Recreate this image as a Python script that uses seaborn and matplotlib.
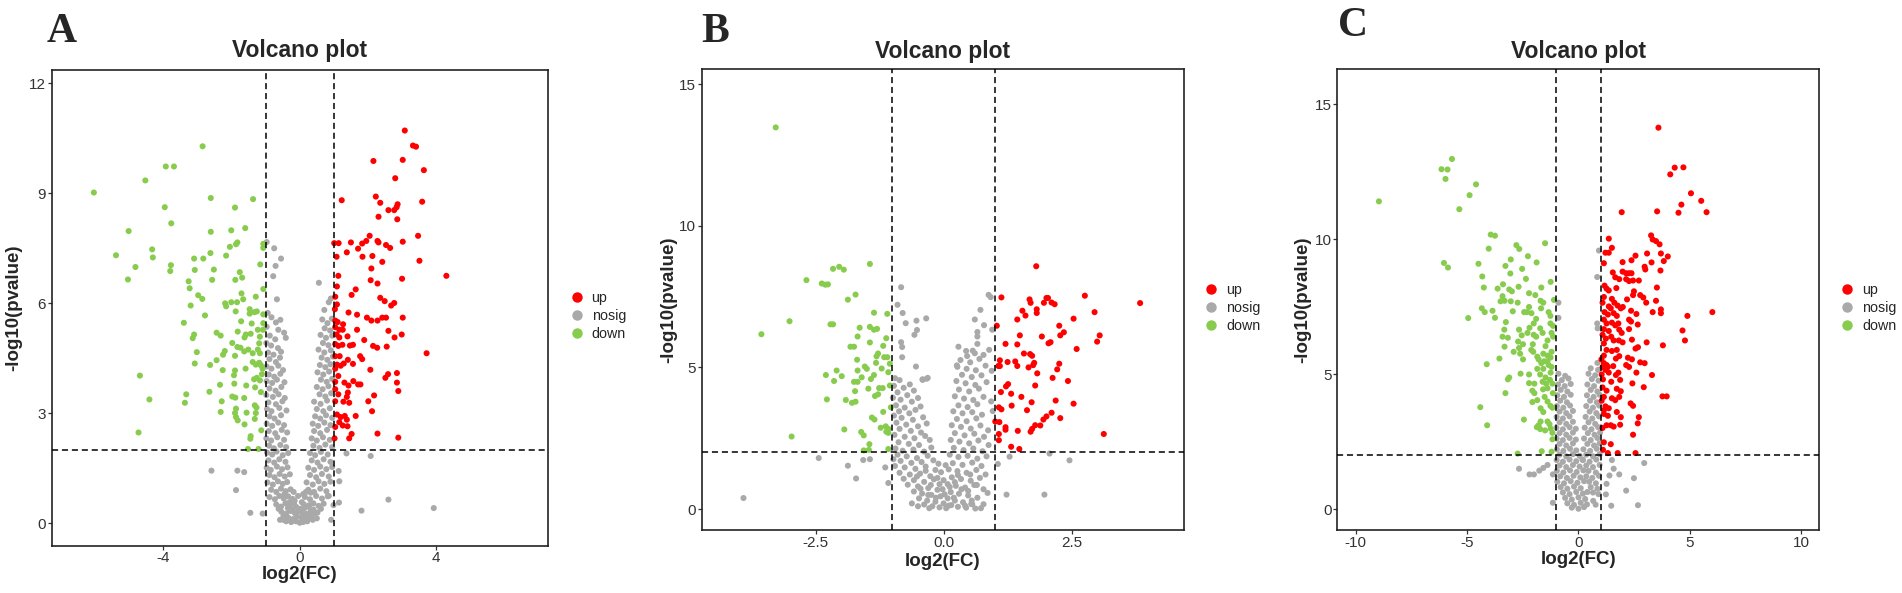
import numpy as np
import pandas as pd
import matplotlib
matplotlib.use('Agg')
import matplotlib.pyplot as plt
import seaborn as sns

# ---------------- panel A ----------------
A_up = [(3.08,10.71),(3.32,10.30),(3.41,10.27),(2.16,9.88),(3.02,9.91),(3.64,9.63),(2.80,9.41),(2.23,8.91),
        (2.36,8.74),(1.23,8.81),(3.59,8.77),(2.87,8.70),(2.84,8.62),(2.60,8.54),(2.77,8.54),(2.31,8.36),(2.86,8.29),
        (2.05,7.84),(3.47,7.84),(1.01,7.64),(1.14,7.64),(1.50,7.66),(1.95,7.70),(1.83,7.63),(2.28,7.70),(2.31,7.66),
        (2.53,7.59),(2.65,7.51),(3.02,7.68),(1.71,7.49),(1.38,7.39),(1.08,7.27),(1.84,7.27),(2.13,7.29),(2.42,7.13),
        (3.51,7.16),(4.30,6.75),(2.10,6.95),(1.13,6.75),(2.08,6.63),(3.00,6.67),(2.28,6.54),(1.64,6.38),(1.09,6.46),
        (1.52,6.23),(1.04,6.18),(2.36,6.15),(2.49,6.06),(2.77,6.01),(2.68,5.94),(1.09,5.97),(1.03,5.84),(1.43,5.75),
        (1.68,5.69),(1.97,5.61),(2.10,5.53),(2.28,5.53),(2.42,5.61),(2.53,5.61),(3.02,5.61),(1.04,5.53),(1.11,5.49),
        (1.27,5.43),(1.04,5.35),(1.16,5.28),(1.26,5.28),(1.68,5.28),(2.60,5.25),(1.08,5.15),(1.16,5.07),(1.40,5.10),
        (2.99,5.15),(1.89,5.00),(2.78,5.07),(1.04,4.89),(1.13,4.84),(1.25,4.87),(1.47,4.85),(1.56,4.87),(2.15,4.84),
        (2.27,4.79),(2.55,4.82),(3.72,4.64),(1.04,4.56),(1.17,4.56),(1.77,4.56),(1.83,4.48),(1.41,4.46),(1.09,4.33),
        (1.20,4.30),(1.29,4.36),(1.56,4.35),(1.04,4.22),(2.07,4.19),(2.59,4.07),(2.51,3.97),(2.85,4.10),(1.13,4.02),
        (1.04,3.86),(1.57,3.88),(1.71,3.79),(1.78,3.79),(1.31,3.84),(1.43,3.76),(2.85,3.84),(2.89,3.61),(1.04,3.66),
        (1.13,3.52),(1.41,3.57),(1.38,3.45),(2.18,3.49),(2.01,3.33),(1.04,3.33),(1.28,3.32),(1.45,3.29),(2.12,3.06),
        (1.09,2.97),(1.20,2.90),(1.32,2.93),(1.38,2.83),(1.64,2.93),(1.16,2.76),(1.26,2.67),(1.40,2.65),(1.04,2.63),
        (2.28,2.45),(1.52,2.44),(1.45,2.32),(2.89,2.34),(1.02,2.32)]
A_down = [(-6.04,9.02),(-2.85,10.28),(-3.93,9.73),(-3.69,9.73),(-4.53,9.35),(-2.61,8.87),(-1.37,8.84),(-3.96,8.62),
          (-1.90,8.61),(-3.77,8.18),(-1.60,8.05),(-5.02,7.97),(-2.61,7.95),(-2.01,7.99),(-1.83,7.66),(-1.87,7.61),
          (-2.05,7.54),(-1.07,7.62),(-1.07,7.51),(-4.33,7.47),(-4.31,7.25),(-5.39,7.31),(-3.10,7.22),(-2.83,7.22),
          (-2.62,7.37),(-2.16,7.30),(-4.82,6.99),(-3.78,7.04),(-3.80,6.88),(-1.16,7.06),(-2.52,6.92),(-3.08,6.91),
          (-5.04,6.65),(-3.26,6.60),(-2.57,6.64),(-1.89,6.64),(-1.76,6.85),(-1.69,6.70),(-3.23,6.41),(-2.98,6.22),
          (-2.86,6.12),(-1.07,6.39),(-1.29,6.18),(-2.19,6.00),(-2.16,5.92),(-2.01,6.03),(-1.84,6.03),(-1.71,6.27),
          (-1.66,6.11),(-1.88,5.78),(-1.47,5.84),(-1.33,5.76),(-1.26,5.78),(-1.47,5.72),(-1.07,5.70),(-1.07,5.46),
          (-3.20,5.94),(-2.78,5.67),(-3.40,5.47),(-1.72,5.51),(-1.41,5.45),(-1.23,5.28),(-1.08,5.28),(-3.10,5.15),
          (-3.14,5.05),(-2.44,5.20),(-2.32,5.12),(-1.82,5.23),(-1.58,5.15),(-1.44,5.17),(-1.62,5.07),(-1.17,5.09),
          (-1.19,4.91),(-1.98,4.92),(-3.02,4.67),(-2.20,4.70),(-2.25,4.60),(-2.44,4.45),(-1.83,4.81),(-1.74,4.79),
          (-1.63,4.69),(-1.51,4.74),(-1.38,4.64),(-1.23,4.74),(-1.17,4.64),(-1.90,4.57),(-3.08,4.36),(-2.63,4.32),
          (-1.38,4.40),(-1.29,4.33),(-1.19,4.38),(-1.14,4.31),(-2.26,4.18),(-1.90,4.17),(-1.93,4.04),(-1.59,4.22),
          (-1.09,4.22),(-1.11,4.07),(-4.69,4.03),(-1.34,3.93),(-1.26,3.97),(-1.17,3.90),(-1.92,3.81),(-2.34,3.78),
          (-1.57,3.76),(-1.31,3.71),(-1.14,3.58),(-2.65,3.59),(-3.33,3.52),(-1.98,3.46),(-1.89,3.43),(-1.63,3.42),
          (-4.41,3.38),(-3.37,3.29),(-2.29,3.33),(-1.32,3.22),(-1.27,3.16),(-1.87,3.13),(-2.32,3.04),(-1.90,3.01),
          (-1.87,2.90),(-1.56,3.02),(-1.29,3.01),(-1.32,2.85),(-1.82,2.81),(-1.62,2.70),(-1.13,2.54),(-4.73,2.48),
          (-1.44,2.38),(-1.45,2.31),(-1.52,2.03),(-1.21,2.03)]
A_nosig_spread = [(-2.59,1.44),(-1.83,1.44),(-1.63,1.40),(-1.87,0.91),(-1.45,0.29),(1.37,1.91),(2.08,1.84),
                  (2.60,0.65),(1.81,0.35),(3.93,0.42),(0.56,6.56),(-0.97,7.67),(-0.75,7.50),(-0.55,7.22),
                  (-0.71,7.02),(-0.78,6.74),(-0.67,6.11),(0.91,6.13),(0.85,6.03),(1.14,1.43),(1.16,1.15),
                  (1.15,0.57),(0.85,0.75),(0.99,0.50),(0.92,0.10),(-1.09,0.27),(-0.48,0.10)]
A_nosig_core = [
    (-0.94,5.74),(-0.83,5.62),(-0.70,5.48),(-0.57,5.55),(-0.97,5.36),(-0.63,5.28),(-0.46,5.20),(-0.88,5.12),
    (-0.72,5.02),(-0.41,5.06),(-0.98,4.92),(-0.84,4.85),(-0.64,4.78),(-0.93,4.66),(-0.77,4.60),(-0.55,4.68),
    (-0.89,4.48),(-0.70,4.40),(-0.58,4.52),(-0.97,4.28),(-0.83,4.22),(-0.63,4.30),(-0.49,4.18),(-0.91,4.06),
    (-0.75,4.00),(-0.57,4.08),(-0.97,3.88),(-0.81,3.83),(-0.67,3.92),(-0.45,3.85),(-0.89,3.68),(-0.71,3.62),
    (-0.54,3.72),(-0.98,3.50),(-0.79,3.45),(-0.62,3.52),(-0.44,3.42),(-0.92,3.30),(-0.70,3.25),(-0.51,3.33),
    (-0.96,3.12),(-0.83,3.06),(-0.60,3.15),(-0.39,3.08),(-0.89,2.92),(-0.74,2.86),(-0.55,2.95),(-0.97,2.72),
    (-0.81,2.66),(-0.63,2.75),(-0.46,2.68),(-0.91,2.52),(-0.72,2.46),(-0.53,2.55),(-0.37,2.48),(-0.98,2.32),
    (-0.84,2.26),(-0.66,2.35),(-0.46,2.28),(-0.90,2.12),(-0.76,2.05),(-0.57,2.14),(-0.40,2.08),
    (-0.96,1.93),(-0.81,1.88),(-0.68,1.96),(-0.50,1.86),(-0.34,1.92),(-0.92,1.72),(-0.75,1.66),(-0.60,1.75),
    (-0.42,1.68),(-0.97,1.52),(-0.85,1.46),(-0.67,1.55),(-0.52,1.48),(-0.36,1.53),(-0.89,1.32),(-0.74,1.26),
    (-0.59,1.35),(-0.44,1.28),(-0.29,1.34),(-0.95,1.12),(-0.79,1.06),(-0.64,1.15),(-0.50,1.08),(-0.37,1.13),
    (-0.84,0.92),(-0.69,0.86),(-0.55,0.95),(-0.41,0.88),(-0.27,0.93),(-0.89,0.72),(-0.73,0.66),(-0.60,0.75),
    (-0.47,0.68),(-0.34,0.74),(-0.21,0.67),(-0.69,0.52),(-0.55,0.46),(-0.42,0.55),(-0.29,0.48),(-0.17,0.54),
    (-0.54,0.32),(-0.40,0.27),(-0.27,0.34),(-0.14,0.28),(-0.04,0.33),(-0.34,0.16),(-0.20,0.12),(-0.08,0.18),
    (-0.25,0.04),(-0.11,0.06),(0.00,0.02),
    (-0.62,0.40),(-0.48,0.20),(-0.35,0.42),(-0.22,0.38),(-0.10,0.45),(0.02,0.40),(0.14,0.42),(0.28,0.50),
    (0.40,0.38),(0.52,0.30),(0.62,0.40),(-0.15,0.62),(-0.05,0.75),(0.06,0.58),(0.18,0.86),(0.35,0.22),
    (-0.58,0.10),(-0.40,0.06),(0.22,0.06),(0.38,0.10),(0.50,0.14),(-0.10,0.28),(0.08,0.24),(-0.30,0.58),
    (-0.45,0.80),(0.10,0.80),(-0.18,0.86),(0.32,0.84),
    (0.72,5.82),(0.66,5.56),(0.81,5.46),(0.94,5.58),(0.73,5.32),(0.89,5.26),(0.61,5.14),(0.77,5.06),(0.95,5.12),
    (0.68,4.92),(0.84,4.86),(0.55,4.74),(0.72,4.66),(0.91,4.72),(0.64,4.52),(0.81,4.46),(0.97,4.55),(0.59,4.32),
    (0.75,4.26),(0.90,4.34),(0.52,4.12),(0.69,4.06),(0.86,4.14),(0.62,3.92),(0.79,3.86),(0.95,3.94),(0.50,3.72),
    (0.67,3.66),(0.84,3.74),(0.58,3.52),(0.75,3.46),(0.92,3.55),(0.42,3.32),(0.61,3.26),(0.80,3.35),(0.50,3.12),
    (0.69,3.06),(0.88,3.14),(0.45,2.92),(0.60,2.86),(0.77,2.95),(0.95,2.88),(0.38,2.72),(0.54,2.66),(0.72,2.75),
    (0.90,2.68),(0.42,2.52),(0.60,2.46),(0.80,2.55),(0.35,2.32),(0.50,2.26),(0.68,2.35),(0.88,2.28),(0.40,2.12),
    (0.58,2.06),(0.75,2.15),(0.95,2.08),
    (0.30,1.92),(0.45,1.86),(0.62,1.95),(0.82,1.88),(0.35,1.72),(0.52,1.66),(0.70,1.75),(0.90,1.68),(0.25,1.52),
    (0.42,1.46),(0.60,1.55),(0.78,1.48),(0.95,1.54),(0.30,1.32),(0.48,1.26),(0.65,1.35),(0.85,1.28),(0.20,1.12),
    (0.38,1.06),(0.55,1.15),(0.72,1.08),(0.90,1.14),(0.25,0.92),(0.42,0.86),(0.60,0.95),(0.78,0.88),(0.15,0.72),
    (0.30,0.66),(0.48,0.75),(0.65,0.68),(0.82,0.74),(0.12,0.52),(0.25,0.46),(0.40,0.55),(0.55,0.48),(0.70,0.54),
    (0.08,0.32),(0.20,0.26),(0.32,0.34),(0.45,0.28),(0.05,0.16),(0.15,0.12),(0.28,0.18),(0.10,0.04)]

# ---------------- panel B ----------------
B_up = [(1.81,8.57),(1.13,7.47),(2.76,7.53),(3.84,7.27),(1.68,7.40),(1.70,7.28),(2.01,7.45),(2.04,7.45),(1.96,7.28),
        (2.11,7.29),(2.17,7.23),(1.54,7.00),(1.82,7.05),(1.82,6.92),(1.60,6.83),(2.95,6.95),(1.44,6.69),(2.54,6.72),
        (1.04,6.47),(2.26,6.47),(2.35,6.24),(2.28,6.13),(1.49,6.13),(1.92,6.09),(3.05,6.13),(2.09,5.89),(2.05,5.85),
        (3.00,5.91),(1.21,5.83),(1.44,5.81),(2.60,5.65),(1.57,5.49),(1.69,5.47),(1.73,5.41),(1.10,5.25),(1.10,5.05),
        (1.25,5.19),(1.40,5.21),(1.44,5.05),(1.77,5.16),(1.75,5.08),(1.66,5.00),(2.26,5.13),(2.22,4.93),(1.07,5.05),
        (1.83,4.79),(2.13,4.63),(1.22,4.33),(1.26,4.41),(1.79,4.36),(2.43,4.52),(1.12,4.13),(1.32,4.07),(1.52,3.96),
        (1.72,3.77),(2.19,3.83),(2.54,3.72),(1.33,3.65),(1.08,3.59),(1.13,3.52),(1.63,3.49),(2.11,3.40),(2.01,3.27),
        (1.95,3.16),(2.28,3.21),(1.01,3.09),(1.09,3.07),(1.79,2.96),(1.73,2.83),(1.70,2.73),(1.89,2.95),(1.21,2.89),
        (1.21,2.80),(1.45,2.76),(3.13,2.65),(1.08,2.65),(1.08,2.43),(1.32,2.20),(1.48,2.12)]
B_down = [(-3.28,13.47),(-1.44,8.65),(-2.16,8.48),(-2.04,8.55),(-1.95,8.45),(-2.68,8.08),(-2.38,7.96),(-2.31,7.92),
          (-2.26,7.93),(-1.72,7.57),(-1.87,7.39),(-1.36,6.93),(-1.10,6.89),(-3.01,6.63),(-2.21,6.52),(-2.16,6.52),
          (-1.64,6.40),(-1.44,6.43),(-1.36,6.33),(-1.30,6.36),(-3.56,6.17),(-1.68,6.09),(-1.12,6.03),(-1.44,5.88),
          (-1.82,5.73),(-1.75,5.73),(-1.18,5.76),(-1.28,5.49),(-1.31,5.39),(-1.16,5.36),(-1.10,5.36),(-1.69,5.27),
          (-1.32,5.16),(-1.05,5.13),(-1.54,5.03),(-1.50,4.95),(-1.21,4.96),(-2.09,4.89),(-1.68,4.89),(-1.08,4.83),
          (-2.30,4.73),(-1.99,4.69),(-1.36,4.73),(-1.60,4.65),(-2.14,4.52),(-1.75,4.49),(-1.68,4.49),(-1.42,4.59),
          (-1.05,4.36),(-1.47,4.25),(-1.26,4.27),(-1.19,4.27),(-1.73,4.16),(-1.28,4.05),(-1.34,3.99),(-1.91,3.85),
          (-2.28,3.87),(-1.79,3.75),(-1.72,3.79),(-1.03,3.59),(-1.18,3.43),(-1.40,3.23),(-1.35,3.16),(-1.94,2.81),
          (-1.23,2.87),(-1.13,2.92),(-1.08,2.83),(-1.12,2.73),(-1.08,2.69),(-1.61,2.72),(-1.56,2.60),(-2.97,2.56),
          (-1.45,2.29),(-1.56,2.07),(-1.46,2.09),(-1.08,2.12)]
B_nosig_spread = [(-3.91,0.39),(-2.44,1.80),(-1.87,1.53),(-1.71,1.08),(-1.57,1.73),(-1.44,1.76),(-0.83,7.83),
                  (-0.90,7.21),(-0.80,6.92),(-0.74,6.56),(-0.53,6.65),(-0.34,6.73),(-0.52,6.32),(-0.57,6.15),
                  (-0.83,5.89),(-0.81,5.72),(-0.81,5.36),(-0.54,5.03),(-0.33,4.60),(-0.41,4.56),(0.88,7.56),
                  (0.92,7.48),(0.72,7.03),(0.61,6.69),(0.79,6.49),(0.95,6.33),(0.66,6.25),(0.66,6.09),(0.29,5.73),
                  (0.66,5.83),(0.46,5.40),(0.57,5.59),(0.26,5.07),(2.07,1.96),(2.46,1.72),(1.23,0.51),(1.97,0.51),
                  (1.29,1.85),(1.06,1.59),(0.86,0.57),(0.78,0.17),(-1.14,1.47),(-1.08,0.92),(-0.98,1.76),(0.56,0.17),
                  (0.73,0.03)]
B_nosig_core = [
    (-0.95,4.62),(-0.86,4.55),(-0.41,4.58),(-0.31,4.63),(-0.97,4.35),(-0.78,4.28),(-0.66,4.40),(-0.90,4.12),
    (-0.71,4.02),(-0.58,4.18),(-0.99,3.93),(-0.84,3.86),(-0.62,3.79),(-0.50,3.92),(-0.93,3.66),(-0.76,3.58),
    (-0.45,3.62),(-0.87,3.45),(-0.67,3.38),(-0.55,3.50),(-0.97,3.30),
    (-0.82,3.22),(-0.60,3.15),(-0.40,3.24),(-0.92,3.05),(-0.73,2.98),(-0.50,2.92),(-0.33,3.02),(-0.86,2.83),
    (-0.64,2.76),(-0.44,2.70),(-0.96,2.62),(-0.76,2.55),(-0.57,2.50),(-0.36,2.58),(-0.27,2.44),(-0.88,2.36),
    (-0.68,2.30),(-0.48,2.26),(-0.94,2.14),(-0.80,2.06),(-0.59,2.10),(-0.38,2.03),(-0.24,2.17),
    (-0.90,1.92),(-0.72,1.86),(-0.52,1.80),(-0.31,1.88),(-0.84,1.70),(-0.63,1.63),(-0.43,1.66),(-0.20,1.72),
    (-0.95,1.52),(-0.76,1.47),(-0.55,1.42),(-0.35,1.50),(-0.16,1.38),(-0.86,1.28),(-0.66,1.22),(-0.46,1.25),
    (-0.26,1.16),(-0.78,1.07),(-0.58,1.02),(-0.38,0.96),(-0.19,1.05),(-0.08,0.88),(-0.70,0.86),(-0.50,0.80),
    (-0.30,0.74),(-0.12,0.68),
    (-0.58,0.62),(-0.42,0.55),(-0.24,0.50),(-0.06,0.45),(-0.48,0.38),(-0.32,0.30),(-0.16,0.26),(0.00,0.20),
    (-0.38,0.16),(-0.22,0.10),(-0.08,0.06),(0.05,0.03),(-0.28,0.03),(0.10,0.12),
    (-0.62,0.20),(-0.50,0.10),(-0.45,0.72),(-0.25,0.85),(-0.12,1.10),(-0.02,0.70),(0.02,0.52),(0.00,1.02),
    (-0.15,0.40),(0.20,0.40),(0.35,0.70),(0.48,0.64),(0.55,0.30),(0.42,0.12),(0.28,1.20),(-0.35,1.35),
    (-0.05,1.30),(0.04,1.55),(-0.10,1.60),(0.22,0.95),(-0.30,0.50),(0.12,0.78),(-0.52,1.15),(0.65,0.85),
    (0.52,1.22),
    (0.44,5.58),(0.61,5.50),(0.78,5.44),(0.89,5.62),(0.33,5.26),(0.52,5.18),(0.70,5.30),(0.27,5.02),(0.45,4.95),
    (0.63,4.90),(0.82,5.06),(0.94,4.88),(0.36,4.74),(0.55,4.66),(0.74,4.72),
    (0.25,4.52),(0.43,4.44),(0.62,4.38),(0.84,4.48),(0.30,4.22),(0.50,4.15),(0.69,4.25),(0.22,3.98),(0.40,3.90),
    (0.58,3.85),(0.78,3.96),(0.93,3.80),(0.29,3.66),(0.47,3.60),(0.66,3.70),(0.19,3.45),(0.37,3.38),(0.56,3.42),
    (0.75,3.33),(0.96,3.46),
    (0.26,3.18),(0.45,3.10),(0.64,3.20),(0.16,2.96),(0.34,2.90),(0.53,2.84),(0.72,2.95),(0.87,2.78),(0.22,2.68),
    (0.41,2.60),(0.60,2.66),(0.79,2.55),(0.14,2.44),(0.31,2.38),(0.50,2.32),(0.68,2.42),(0.88,2.26),(0.20,2.16),
    (0.39,2.08),(0.58,2.14),(0.76,2.04),
    (0.12,1.92),(0.29,1.84),(0.47,1.88),(0.66,1.78),(0.84,1.86),(0.18,1.62),(0.37,1.56),(0.56,1.64),(0.74,1.52),
    (0.10,1.40),(0.27,1.34),(0.45,1.28),(0.64,1.38),(0.82,1.22),(0.16,1.12),(0.34,1.06),(0.53,1.00),(0.71,1.10),
    (0.08,0.88),(0.24,0.82),(0.42,0.76),(0.60,0.85),(0.78,0.70),
    (0.14,0.60),(0.30,0.54),(0.48,0.48),(0.66,0.40),(0.08,0.38),(0.22,0.30),(0.38,0.24),(0.54,0.18),(0.15,0.14),
    (0.28,0.08),(0.44,0.05),(0.62,0.02)]

# ---------------- panel C ----------------
C_up = [(3.59,14.13),(4.32,12.65),(4.71,12.66),(4.12,12.40),(5.05,11.70),(5.51,11.42),(4.62,11.28),(1.94,11.00),
        (3.53,11.03),(4.49,10.98),(5.75,11.00),(1.36,10.02),(3.26,10.14),(3.33,9.99),(3.48,9.93),(3.64,9.81),
        (1.50,9.68),(1.21,9.50),(1.36,9.50),(3.08,9.47),(3.70,9.47),(1.14,9.11),(1.98,9.15),(2.38,9.22),(2.56,9.39),
        (4.01,9.36),(3.83,9.19),(2.97,8.98),(3.00,8.88),(3.28,9.14),(3.68,8.84),(1.54,8.77),(1.98,8.80),(2.14,8.74),
        (2.27,8.74),(2.38,8.74),(1.65,8.59),(1.83,8.52),(2.14,8.52),(2.27,8.45),(2.45,8.47),(2.71,8.47),(1.17,8.28),
        (1.26,8.17),(1.36,8.10),(1.70,8.19),(2.49,8.07),(2.45,7.93),(3.52,8.21),(2.77,7.93),(2.91,7.84),(3.04,7.65),
        (1.14,7.86),(1.08,7.65),(1.50,7.79),(1.61,7.65),(1.36,7.51),(1.45,7.44),(1.76,7.54),(1.90,7.44),(1.99,7.49),
        (2.18,7.77),(3.48,7.72),(3.70,7.40),(3.70,7.26),(3.33,7.30),(4.89,7.16),(6.01,7.30),(1.17,7.30),(1.32,7.21),
        (1.58,7.26),(1.72,7.16),(2.36,7.35),(2.60,7.23),(1.14,7.02),(1.26,6.88),(1.50,6.91),(1.65,6.81),(1.79,6.88),
        (2.27,7.02),(2.36,6.95),(1.14,6.67),(1.36,6.60),(1.83,6.65),(1.94,6.53),(2.27,6.67),(2.66,6.84),(4.67,6.62),
        (4.78,6.25),(1.08,6.46),(1.23,6.32),(1.47,6.39),(1.58,6.25),(1.81,6.25),(1.98,6.18),(2.40,6.28),(1.14,6.14),
        (3.79,6.07),(3.06,6.18),(2.56,5.95),(2.67,6.00),(1.26,5.90),(1.50,5.86),(1.72,5.90),(1.14,5.69),(1.03,5.55),
        (1.68,5.58),(1.83,5.67),(2.22,5.61),(2.40,5.55),(1.14,5.41),(1.08,5.27),(1.26,5.34),(1.32,5.27),(1.21,5.16),
        (1.56,5.30),(2.14,5.34),(2.27,5.27),(2.77,5.44),(2.97,5.41),(1.79,5.06),(1.68,4.97),(1.36,5.06),(1.04,4.99),
        (2.60,5.06),(3.30,4.97),(1.10,4.81),(1.87,4.79),(1.47,4.72),(2.42,4.66),(2.93,4.52),(1.08,4.51),(1.26,4.39),
        (1.72,4.46),(1.90,4.37),(3.77,4.18),(3.96,4.18),(1.14,4.16),(1.04,4.02),(1.50,4.11),(1.65,4.04),(1.83,4.16),
        (2.34,3.92),(1.21,3.81),(1.14,3.67),(1.36,3.74),(2.45,3.83),(1.72,3.60),(1.14,3.53),(1.32,3.46),(2.71,3.41),
        (1.90,3.41),(2.66,3.18),(1.26,3.11),(1.45,3.11),(1.58,3.06),(1.87,3.13),(1.08,3.01),(2.45,2.76),(1.14,2.48),
        (1.45,2.41),(1.10,2.20),(1.32,2.08),(1.76,2.08),(2.56,2.08)]
C_down = [(-8.96,11.40),(-5.68,12.97),(-6.15,12.59),(-5.88,12.58),(-5.97,12.23),(-4.60,12.03),(-4.89,11.63),
          (-5.35,11.11),(-3.94,10.17),(-3.75,10.13),(-1.50,9.85),(-4.03,9.65),(-2.79,9.78),(-2.66,9.64),(-6.04,9.12),
          (-5.86,8.95),(-4.49,9.09),(-2.27,9.37),(-3.04,9.25),(-1.88,9.14),(-3.28,9.01),(-2.53,8.90),(-3.06,8.73),
          (-4.32,8.62),(-2.36,8.53),(-1.25,8.42),(-3.39,8.33),(-2.69,8.24),(-4.25,8.21),(-3.63,8.17),(-3.11,8.14),
          (-2.99,8.07),(-1.67,8.21),(-2.22,8.00),(-1.94,7.93),(-3.41,7.89),(-3.32,7.72),(-3.50,7.70),(-3.04,7.70),
          (-2.73,7.65),(-1.70,7.72),(-1.58,7.65),(-1.10,7.75),(-4.34,7.44),(-4.21,7.30),(-3.86,7.35),(-2.22,7.49),
          (-1.68,7.44),(-1.34,7.30),(-1.26,7.16),(-2.95,7.33),(-2.44,7.30),(-2.31,7.30),(-2.11,7.26),(-3.75,7.09),
          (-4.95,7.08),(-3.26,6.93),(-1.90,7.05),(-2.01,6.88),(-1.26,6.88),(-1.14,6.79),(-2.20,6.72),(-2.29,6.53),
          (-3.33,6.65),(-3.41,6.39),(-2.67,6.65),(-2.55,6.44),(-1.72,6.70),(-1.61,6.53),(-2.01,6.46),(-1.90,6.39),
          (-1.21,6.53),(-1.14,6.39),(-1.39,6.25),(-3.17,6.35),(-2.71,6.21),(-2.49,6.11),(-2.05,6.11),(-1.48,6.04),
          (-3.32,6.02),(-2.91,5.83),(-2.67,5.97),(-2.12,5.90),(-2.03,5.83),(-1.58,5.76),(-1.39,5.69),(-1.85,5.65),
          (-1.21,5.83),(-1.25,5.62),(-3.55,5.58),(-2.62,5.76),(-2.49,5.55),(-1.79,5.55),(-1.67,5.41),(-1.54,5.48),
          (-1.39,5.48),(-1.34,5.34),(-1.21,5.27),(-4.12,5.37),(-1.85,5.20),(-1.58,5.20),(-1.25,5.06),(-2.60,5.02),
          (-2.22,4.99),(-1.72,4.99),(-1.48,4.88),(-3.11,4.88),(-3.17,4.81),(-2.22,4.67),(-1.98,4.65),(-1.61,4.72),
          (-1.45,4.65),(-1.28,4.79),(-1.17,4.65),(-2.07,4.39),(-1.98,4.30),(-1.59,4.44),(-1.39,4.48),(-3.28,4.30),
          (-1.15,4.30),(-2.07,3.97),(-1.85,4.04),(-1.52,4.16),(-1.39,3.99),(-1.26,3.83),(-1.17,3.76),(-4.41,3.78),
          (-1.70,3.74),(-1.58,3.60),(-2.45,3.32),(-1.70,3.25),(-1.79,3.11),(-1.39,3.25),(-1.30,3.15),(-4.10,3.11),
          (-1.87,3.04),(-1.72,2.97),(-1.50,2.92),(-1.25,2.99),(-1.17,2.83),(-1.17,2.59),(-1.65,2.15),(-1.21,2.13),
          (-2.73,2.06)]
C_nosig_spread = [(-2.67,1.50),(-2.20,1.29),(-2.00,1.29),(-1.76,1.43),(-1.58,1.53),(-1.39,1.64),(-1.15,1.29),
                  (-1.15,0.24),(-0.90,7.65),(-0.90,7.09),(0.84,8.60),(0.92,9.58),(0.84,6.88),(0.86,6.70),(1.50,1.82),
                  (1.58,1.50),(1.83,1.29),(2.14,0.69),(2.49,1.15),(2.95,1.71),(2.67,0.15),(1.47,0.13),(1.23,0.55),
                  (1.26,0.94),(1.39,1.25),(0.77,0.17),(0.66,0.31)]
C_nosig_core = [
    (-0.90,5.02),(-0.60,4.94),(-0.75,4.78),(-0.45,4.84),(-0.92,4.62),(-0.62,4.56),(-0.35,4.64),(-0.80,4.42),
    (-0.50,4.36),(-0.95,4.22),(-0.65,4.16),(-0.35,4.24),(-0.82,4.02),(-0.52,3.96),(-0.97,3.82),(-0.68,3.76),
    (-0.38,3.84),(-0.85,3.62),(-0.55,3.56),(-0.25,3.64),(-0.98,3.42),(-0.70,3.36),(-0.40,3.44),(-0.85,3.22),
    (-0.55,3.16),(-0.25,3.24),(-0.99,3.02),(-0.70,2.96),(-0.40,3.04),(-0.12,2.98),(-0.85,2.82),(-0.55,2.76),
    (-0.25,2.84),(-0.98,2.62),(-0.70,2.56),(-0.40,2.64),(-0.12,2.58),(-0.85,2.42),(-0.55,2.36),(-0.25,2.44),
    (-0.97,2.22),(-0.68,2.16),(-0.38,2.24),(-0.10,2.18),(-0.85,2.02),(-0.55,1.96),(-0.25,2.04),(0.05,1.98),
    (-0.98,1.82),(-0.70,1.76),(-0.40,1.84),(-0.10,1.78),(0.18,1.84),(-0.85,1.62),(-0.55,1.56),(-0.25,1.64),
    (0.05,1.58),(-0.97,1.42),(-0.68,1.36),(-0.38,1.44),(-0.08,1.38),(0.22,1.44),(-0.82,1.22),(-0.52,1.16),
    (-0.22,1.24),(0.08,1.18),(-0.95,1.02),(-0.65,0.96),(-0.35,1.04),(-0.05,0.98),(0.25,1.04),(-0.80,0.82),
    (-0.50,0.76),(-0.20,0.84),(0.10,0.78),(-0.70,0.62),(-0.40,0.56),(-0.10,0.64),(0.20,0.58),(0.40,0.64),
    (-0.60,0.42),(-0.30,0.36),(0.00,0.44),(0.30,0.38),(-0.50,0.22),(-0.20,0.16),(0.10,0.24),(0.38,0.18),
    (-0.30,0.06),(0.00,0.02),(0.25,0.08),
    (0.85,5.42),(0.55,5.22),(0.88,5.16),(0.45,5.02),(0.75,4.96),(0.60,4.82),(0.90,4.76),(0.40,4.62),(0.70,4.56),
    (0.55,4.42),(0.85,4.36),(0.38,4.22),(0.68,4.16),(0.95,4.24),(0.52,4.02),(0.82,3.96),(0.35,3.82),(0.65,3.76),
    (0.93,3.84),(0.50,3.62),(0.80,3.56),(0.32,3.42),(0.62,3.36),(0.92,3.44),(0.45,3.22),(0.75,3.16),(0.28,3.02),
    (0.58,2.96),(0.88,3.04),(0.42,2.82),(0.72,2.76),(0.97,2.84),(0.25,2.62),(0.55,2.56),(0.85,2.64),(0.40,2.42),
    (0.70,2.36),(0.95,2.44),(0.22,2.22),(0.52,2.16),(0.82,2.24),(0.35,2.02),(0.65,1.96),(0.95,2.04),(0.20,1.82),
    (0.50,1.76),(0.80,1.84),(0.35,1.62),(0.65,1.56),(0.95,1.64),(0.45,1.42),(0.78,1.36),(0.35,1.22),(0.62,1.16),
    (0.92,1.24),(0.48,1.02),(0.78,0.96),(0.55,0.82),(0.85,0.76),(0.65,0.62),(0.90,0.56)]

# axis settings
A_xlim, A_ylim = (-7.27, 7.28), (-0.6, 12.36)
A_xticks, A_xticklabels = [-4, 0, 4], ['-4', '0', '4']
A_yticks, A_yticklabels = [0, 3, 6, 9, 12], ['0', '3', '6', '9', '12']
B_xlim, B_ylim = (-4.72, 4.69), (-0.75, 15.52)
B_xticks, B_xticklabels = [-2.5, 0, 2.5], ['-2.5', '0.0', '2.5']
B_yticks, B_yticklabels = [0, 5, 10, 15], ['0', '5', '10', '15']
C_xlim, C_ylim = (-10.82, 10.81), (-0.78, 16.29)
C_xticks, C_xticklabels = [-10, -5, 0, 5, 10], ['-10', '-5', '0', '5', '10']
C_yticks, C_yticklabels = [0, 5, 10, 15], ['0', '5', '10', '15']

groups = ['up', 'nosig', 'down']
palette = {'up': '#FF0000', 'nosig': '#A9A9A9', 'down': '#88CC4E'}


def build_df(up, down, nosig_spread, nosig_core):
    """把读出的点拼成一个表"""
    recs = [(x, y, 'nosig') for x, y in list(nosig_spread) + list(nosig_core)]
    recs += [(x, y, 'up') for x, y in up]
    recs += [(x, y, 'down') for x, y in down]
    return pd.DataFrame(recs, columns=['log2FC', 'logp', 'group'])


sns.set_style('white')
plt.rcParams['font.family'] = ['Liberation Sans', 'DejaVu Sans']
plt.rcParams['axes.unicode_minus'] = False

fig = plt.figure(figsize=(19.02, 5.93), dpi=100)

panels = [
    dict(df=build_df(A_up, A_down, A_nosig_spread, A_nosig_core), rect=[0.0273, 0.0801, 0.2608, 0.8019],
         xlim=A_xlim, ylim=A_ylim, xt=A_xticks, xtl=A_xticklabels, yt=A_yticks, ytl=A_yticklabels,
         title_y=1.040, ylab_x=-0.0766, xlab_y=-0.062, leg=(1.0433, 0.4826),
         letter='A', letter_xy=(0.0247, 0.9292)),
    dict(df=build_df(B_up, B_down, B_nosig_spread, B_nosig_core), rect=[0.3691, 0.1057, 0.2532, 0.7774],
         xlim=B_xlim, ylim=B_ylim, xt=B_xticks, xtl=B_xticklabels, yt=B_yticks, ytl=B_yticklabels,
         title_y=1.0395, ylab_x=-0.069, xlab_y=-0.0666, leg=(1.0418, 0.4821),
         letter='B', letter_xy=(0.3686, 0.9292)),
    dict(df=build_df(C_up, C_down, C_nosig_spread, C_nosig_core), rect=[0.7032, 0.1057, 0.2533, 0.7774],
         xlim=C_xlim, ylim=C_ylim, xt=C_xticks, xtl=C_xticklabels, yt=C_yticks, ytl=C_yticklabels,
         title_y=1.0395, ylab_x=-0.072, xlab_y=-0.063, leg=(1.0436, 0.4821),
         letter='C', letter_xy=(0.7035, 0.9401)),
]

for p in panels:
    ax = fig.add_axes(p['rect'])
    sns.scatterplot(data=p['df'], x='log2FC', y='logp', hue='group', hue_order=groups,
                    palette=palette, s=19, linewidth=0, ax=ax)
    # 阈值虚线
    for xv in (-1, 1):
        ax.axvline(xv, color='black', lw=1.1, ls=(0, (4, 2.5)), zorder=3)
    ax.axhline(2, color='black', lw=1.1, ls=(0, (4, 2.5)), zorder=3)

    ax.set_xlim(p['xlim'])
    ax.set_ylim(p['ylim'])
    ax.set_xticks(p['xt'])
    ax.set_xticklabels(p['xtl'])
    ax.set_yticks(p['yt'])
    ax.set_yticklabels(p['ytl'])
    ax.tick_params(axis='both', length=2.75, width=0.9, color='#333333', labelcolor='#333333',
                   labelsize=11, pad=1.5, direction='out', bottom=True, left=True)
    for sp in ax.spines.values():
        sp.set_visible(True)
        sp.set_color('#222222')
        sp.set_linewidth(1.2)
    ax.set_xlabel('')
    ax.set_ylabel('')

    ax.text(0.5, p['title_y'], 'Volcano plot', transform=ax.transAxes, ha='center', va='center',
            fontsize=16.5, fontweight='bold')
    ax.text(p['ylab_x'], 0.5, '-log10(pvalue)', transform=ax.transAxes, ha='center', va='center',
            rotation=90, fontsize=13.5, fontweight='bold')
    ax.text(0.5, p['xlab_y'], 'log2(FC)', transform=ax.transAxes, ha='center', va='center',
            fontsize=13.5, fontweight='bold')

    sns.move_legend(ax, 'center left', bbox_to_anchor=p['leg'], frameon=False, title=None,
                    fontsize=10.3, handlelength=1.0, handletextpad=0.55, labelspacing=0.25,
                    borderaxespad=0, borderpad=0)
    for h in ax.get_legend().legend_handles:
        if hasattr(h, 'set_markersize'):
            h.set_markersize(7.5)
            h.set_markeredgewidth(0)
        else:
            h.set_sizes([56])
            h.set_linewidth(0)

    fig.text(p['letter_xy'][0], p['letter_xy'][1], p['letter'], ha='left', va='baseline',
             fontsize=30, fontweight='bold', family=['Liberation Serif', 'DejaVu Serif'])

fig.savefig('out.png', dpi=100)
